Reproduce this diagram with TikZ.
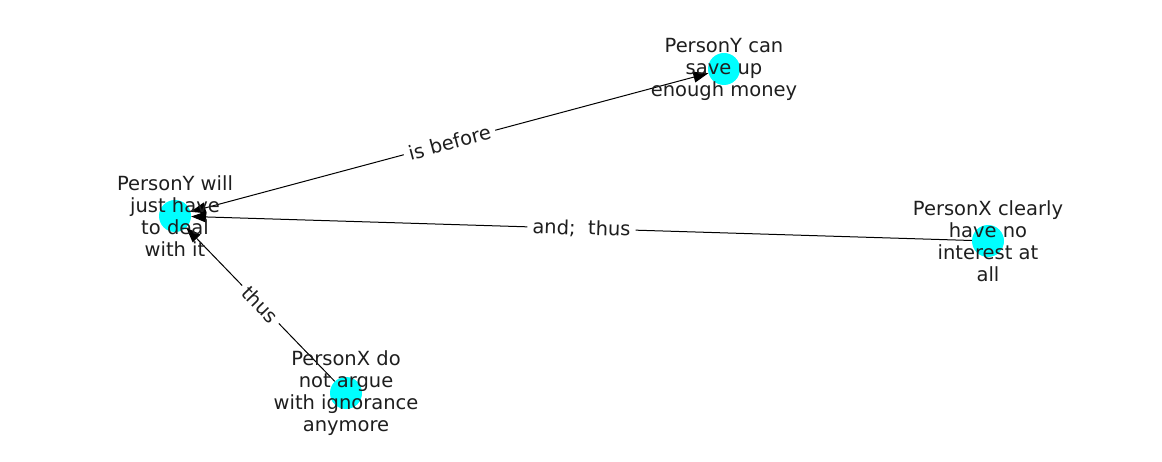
\documentclass[tikz,border=0pt]{standalone}
\usepackage{fontspec}
\setmainfont{DejaVu Sans}
\usetikzlibrary{arrows.meta}
\definecolor{cyanc}{RGB}{0,255,255}
\definecolor{txt}{RGB}{30,30,30}
\begin{document}
\begin{tikzpicture}[x=1pt,y=-1pt,
  dot/.style={circle,fill=cyanc,inner sep=0pt,minimum size=32pt},
  lbl/.style={align=center,font=\fontsize{19.5}{22}\selectfont,text=txt,inner sep=0pt},
  conn/.style={draw=black,line width=1pt},
  tip/.style={-{Triangle[length=15pt,width=11pt]}},
  elab/.style={sloped,fill=white,font=\fontsize{19.5}{22}\selectfont,text=txt,inner sep=5pt}]
\useasboundingbox (0,0) rectangle (1162,462);
% dots
\node[dot] (a) at (175,216) {};
\node[dot] (b) at (724,69) {};
\node[dot] (c) at (988,241) {};
\node[dot] (d) at (346,393) {};
% edges
\draw[conn,{Triangle[length=15pt,width=11pt]}-{Triangle[length=15pt,width=11pt]}] (a) -- node[elab] {is before} (b);
\draw[conn,tip] (c) -- node[elab] {and;\ \ thus} (a);
\draw[conn,tip] (d) -- node[elab] {thus} (a);
% texts
\node[lbl] (ta) at (175,216) {PersonY will\\just have\\to deal\\with it};
\node[lbl] (tb) at (724,69) {PersonY can\\save up\\enough money};
\node[lbl] (tc) at (988,241) {PersonX clearly\\have no\\interest at\\all};
\node[lbl] (td) at (346,393) {PersonX do\\not argue\\with ignorance\\anymore};
\end{tikzpicture}
\end{document}
